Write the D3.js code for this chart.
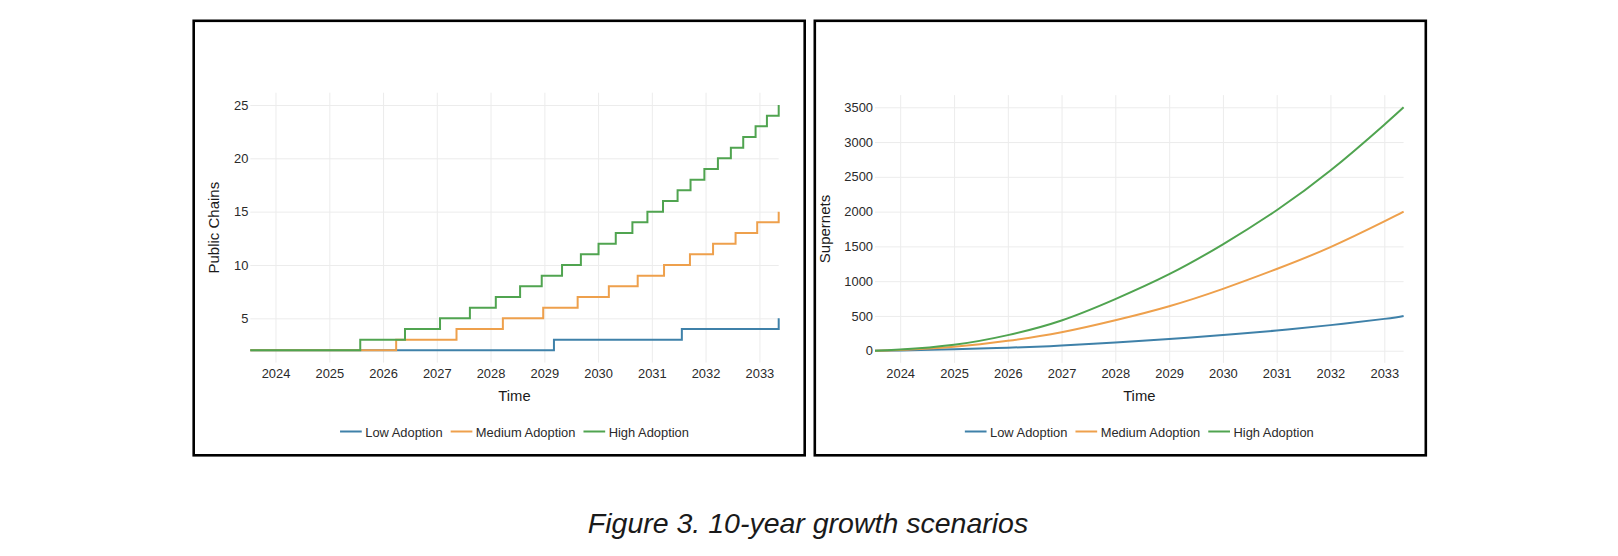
<!DOCTYPE html>
<html>
<head>
<meta charset="utf-8">
<script src="https://d3js.org/d3.v7.min.js"></script>
<style>
    body { margin: 0; background: #fff; }
    svg { display: block; font-family: "Liberation Sans", Arial, sans-serif; }
    .grid line { stroke: #ececec; stroke-width: 1; }
    .grid path { display: none; }
    .tick-lbl text { fill: #2a2a2a; font-size: 12.9px; }
    .tick-lbl path, .tick-lbl line { display: none; }
</style>
</head>
<body>
<div id="fig"></div>
<script>
// ---------- data ----------
var startDate = "2023-07-14";
var endDate = "2033-05-12";
var seriesNames = ["Low Adoption", "Medium Adoption", "High Adoption"];
var seriesColors = ["#3f81a9", "#eea04c", "#50a450"];

// public chains: step dates and the value reached at each step
var lowChainDates = [startDate, "2029-03-07", "2031-07-24", endDate];
var lowChainValues = [2, 3, 4, 5];
var medChainDates = [startDate, "2026-03-31", "2027-05-15", "2028-03-25", "2028-12-24", "2029-08-15",
    "2030-03-15", "2030-09-27", "2031-03-25", "2031-09-17", "2032-02-21", "2032-07-23", "2032-12-17", endDate];
var medChainValues = [2, 3, 4, 5, 6, 7, 8, 9, 10, 11, 12, 13, 14, 15];
var highChainDates = [startDate, "2025-07-30", "2026-05-30", "2027-01-23", "2027-08-14", "2028-02-06",
    "2028-07-20", "2028-12-14", "2029-05-01", "2029-09-06", "2030-01-04", "2030-05-01", "2030-08-22",
    "2030-12-02", "2031-03-18", "2031-06-25", "2031-09-21", "2031-12-24", "2032-03-25", "2032-06-21",
    "2032-09-13", "2032-12-06", "2033-02-21", endDate];
var highChainValues = [2, 3, 4, 5, 6, 7, 8, 9, 10, 11, 12, 13, 14, 15, 16, 17, 18, 19, 20, 21, 22, 23, 24, 25];

// subnets
var subnetDates = [startDate, "2024-01-01", "2025-01-01", "2026-01-01", "2027-01-01", "2028-01-01",
    "2029-01-01", "2030-01-01", "2031-01-01", "2032-01-01", "2033-01-01", endDate];
var lowSubnets = [0, 5, 20, 43, 74, 118, 168, 225, 290, 368, 458, 500];
var medSubnets = [0, 12, 58, 142, 266, 438, 640, 890, 1175, 1490, 1860, 2000];
var highSubnets = [0, 16, 85, 224, 435, 742, 1100, 1530, 2020, 2590, 3250, 3500];

var yearTicks = ["2024", "2025", "2026", "2027", "2028", "2029", "2030", "2031", "2032", "2033"];
var chainTicks = [5, 10, 15, 20, 25];
var subnetTicks = [0, 500, 1000, 1500, 2000, 2500, 3000, 3500];

// ---------- setup ----------
var W = 1618, H = 556;
var parse = d3.timeParse("%Y-%m-%d");
var svg = d3.select('#fig').append('svg')
    .attr('width', W)
    .attr('height', H);

function toPoints(dates, vals) {
    return dates.map(function(d, i) { return {t: parse(d), v: vals[i]}; });
}

function drawPanel(cfg) {
    // frame
    svg.append('rect')
        .attr('x', cfg.px).attr('y', 20.8)
        .attr('width', 611).attr('height', 434.5)
        .attr('fill', 'none')
        .attr('stroke', '#000')
        .attr('stroke-width', 2.6);

    var x = d3.scaleTime()
        .domain([parse(startDate), parse(endDate)])
        .range([cfg.x0, cfg.x1]);
    var y = d3.scaleLinear()
        .domain(cfg.ydom)
        .range(cfg.yrange);
    var top = cfg.yrange[1], bottom = cfg.yrange[0];
    var xt = yearTicks.map(function(s) { return d3.timeParse("%Y")(s); });

    // grid
    svg.append('g').attr('class', 'grid')
        .attr('transform', 'translate(0,' + bottom + ')')
        .call(d3.axisBottom(x).tickValues(xt).tickSize(-(bottom - top)).tickFormat(''));
    svg.append('g').attr('class', 'grid')
        .attr('transform', 'translate(' + cfg.x0 + ',0)')
        .call(d3.axisLeft(y).tickValues(cfg.yticks).tickSize(-(cfg.x1 - cfg.x0)).tickFormat(''));

    // tick labels
    svg.append('g').attr('class', 'tick-lbl')
        .attr('transform', 'translate(0,366)')
        .call(d3.axisBottom(x).tickValues(xt).tickSize(0).tickPadding(0).tickFormat(d3.timeFormat('%Y')))
        .selectAll('text').attr('dy', '0.92em');
    svg.append('g').attr('class', 'tick-lbl')
        .attr('transform', 'translate(' + (cfg.x0 - 2) + ',0)')
        .call(d3.axisLeft(y).tickValues(cfg.yticks).tickSize(0).tickPadding(0).tickFormat(d3.format('d')));

    // lines
    var line = d3.line()
        .x(function(d) { return x(d.t); })
        .y(function(d) { return y(d.v); })
        .curve(cfg.curve);
    cfg.series.forEach(function(s, i) {
        svg.append('path')
            .datum(s)
            .attr('d', line)
            .attr('fill', 'none')
            .attr('stroke', seriesColors[i])
            .attr('stroke-width', 2);
    });

    var cx = (cfg.x0 + cfg.x1) / 2;

    // axis titles
    svg.append('text')
        .attr('x', cx).attr('y', 401.3)
        .attr('text-anchor', 'middle')
        .attr('font-size', 14.8)
        .attr('fill', '#1a1a1a')
        .text('Time');
    svg.append('text')
        .attr('transform', 'translate(' + cfg.ytx + ',' + ((top + bottom) / 2) + ') rotate(-90)')
        .attr('dy', '0.36em')
        .attr('text-anchor', 'middle')
        .attr('font-size', 15)
        .attr('fill', '#1a1a1a')
        .text(cfg.ytitle);

    // legend
    var leg = svg.append('g');
    var xpos = 0;
    seriesNames.forEach(function(n, i) {
        leg.append('line')
            .attr('x1', xpos).attr('x2', xpos + 21.7)
            .attr('y1', 431.5).attr('y2', 431.5)
            .attr('stroke', seriesColors[i])
            .attr('stroke-width', 2);
        var t = leg.append('text')
            .attr('x', xpos + 25.2).attr('y', 436.5)
            .attr('font-size', 12.9)
            .attr('fill', '#2a2a2a')
            .text(n);
        xpos += 25.2 + t.node().getComputedTextLength() + 8;
    });
    var lw = xpos - 8;
    leg.attr('transform', 'translate(' + (cx - lw / 2) + ',0)');
}

drawPanel({
    px: 193.7, x0: 250.3, x1: 778.7,
    ydom: [0.85, 26.15], yrange: [362.6, 92.7], yticks: chainTicks,
    ytx: 213.7, ytitle: 'Public Chains',
    curve: d3.curveStepAfter,
    series: [toPoints(lowChainDates, lowChainValues),
             toPoints(medChainDates, medChainValues),
             toPoints(highChainDates, highChainValues)]
});

drawPanel({
    px: 814.8, x0: 875, x1: 1403.6,
    ydom: [-175, 3675], yrange: [362.9, 95.1], yticks: subnetTicks,
    ytx: 824.3, ytitle: 'Supernets',
    curve: d3.curveNatural,
    series: [toPoints(subnetDates, lowSubnets),
             toPoints(subnetDates, medSubnets),
             toPoints(subnetDates, highSubnets)]
});

// caption
svg.append('text')
    .attr('x', 808).attr('y', 533)
    .attr('text-anchor', 'middle')
    .attr('font-size', 28.5)
    .attr('font-style', 'italic')
    .attr('fill', '#1a1a1a')
    .text('Figure 3. 10-year growth scenarios');
</script>
</body>
</html>
